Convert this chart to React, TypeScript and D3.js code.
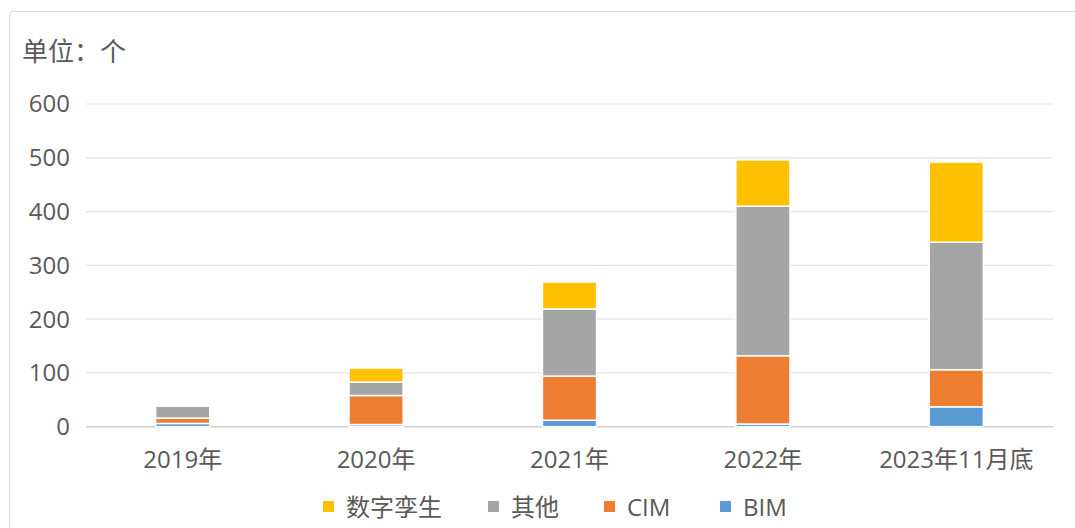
import React from "react";
import * as d3 from "d3";

const categories = ["2019年", "2020年", "2021年", "2022年", "2023年11月底"];
const seriesNames = ["BIM", "CIM", "其他", "数字孪生"];
const bimValues = [6, 4, 12, 5, 37];
const cimValues = [10, 54, 82, 127, 69];
const otherValues = [22, 25, 125, 278, 237];
const twinValues = [0, 26, 50, 86, 149];
const yTicks = [0, 100, 200, 300, 400, 500, 600];
const colors: Record<string, string> = {
  BIM: "#5B9BD5",
  CIM: "#ED7D31",
  其他: "#A5A5A5",
  数字孪生: "#FFC000",
};
const legendOrder = ["数字孪生", "其他", "CIM", "BIM"];

const W = 1075;
const H = 528;
const FONT = "'Open Sans', 'Noto Sans CJK SC', sans-serif";

export default function App() {
  const x = d3.scaleBand<string>().domain(categories).range([86, 1053]).paddingInner(0.72).paddingOuter(0.36);
  const y = d3.scaleLinear().domain([0, 600]).range([426.7, 104]);

  const rows = categories.map((c, i) => ({
    cat: c,
    BIM: bimValues[i],
    CIM: cimValues[i],
    其他: otherValues[i],
    数字孪生: twinValues[i],
  }));
  const stack = d3.stack<any>().keys(seriesNames)(rows);

  const legendX: Record<string, number> = { 数字孪生: 323, 其他: 488, CIM: 604, BIM: 720 };

  return (
    <svg width={W} height={H} style={{ position: "absolute", left: 0, top: 0 }}>
      <rect x={0} y={0} width={W} height={H} fill="#fff" />
      <rect x={9.5} y={11.5} width={W + 20} height={H + 20} rx={4} fill="#fff" stroke="#D9D9D9" strokeWidth={1} />
      <text x={22} y={61} fontSize={26} fill="#595959" fontFamily={FONT}>单位：个</text>
      {yTicks.map((t) => (
        <g key={t}>
          <line x1={86} x2={1053} y1={y(t)} y2={y(t)} stroke={t === 0 ? "#D0D0D0" : "#E3E3E3"} strokeWidth={t === 0 ? 1.5 : 1.2} />
          <text x={70} y={y(t)} dy="0.35em" textAnchor="end" fontSize={24} fill="#595959" fontFamily={FONT}>{t}</text>
        </g>
      ))}
      {stack.map((s) => (
        <g key={s.key} fill={colors[s.key]}>
          {s.map((d, i) =>
            d[1] - d[0] > 0 ? (
              <rect
                key={i}
                x={x(categories[i])}
                width={x.bandwidth()}
                y={y(d[1])}
                height={y(d[0]) - y(d[1])}
                stroke="#fff"
                strokeWidth={1.5}
              />
            ) : null
          )}
        </g>
      ))}
      {categories.map((c) => (
        <text key={c} x={(x(c) as number) + x.bandwidth() / 2} y={468} textAnchor="middle" fontSize={24} fill="#595959" fontFamily={FONT}>{c}</text>
      ))}
      {legendOrder.map((k) => (
        <g key={k}>
          <rect x={legendX[k]} y={501} width={11} height={11} fill={colors[k]} />
          <text x={legendX[k] + 23} y={507} dy="0.36em" fontSize={24} fill="#595959" fontFamily={FONT}>{k}</text>
        </g>
      ))}
    </svg>
  );
}
